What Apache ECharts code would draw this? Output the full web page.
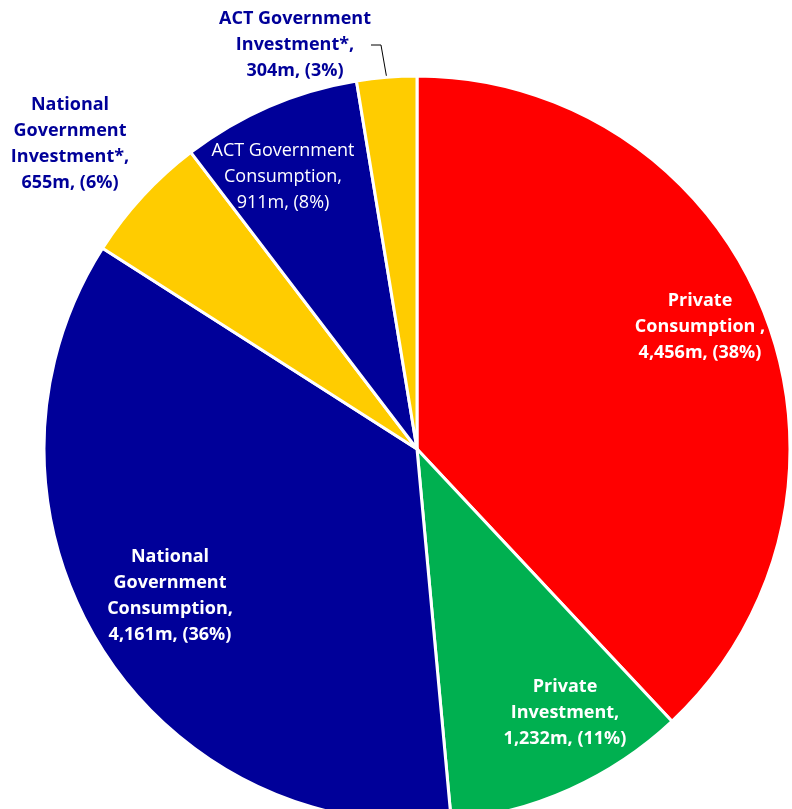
<!DOCTYPE html>
<html>
<head>
<meta charset="utf-8">
<script src="https://cdn.jsdelivr.net/npm/echarts@6/dist/echarts.min.js"></script>
<style>
html, body { margin: 0; padding: 0; background: #fff; }
#P1 { width: 792px; height: 809px; }
</style>
</head>
<body>
<div id="P1"></div>
<script>
// slices, clockwise from 12 o'clock
var names = ['Private\nConsumption ', 'Private\nInvestment', 'National\nGovernment\nConsumption',
	'National\nGovernment\nInvestment*', 'ACT Government\nConsumption', 'ACT Government\nInvestment*'];
var values = [4456, 1232, 4161, 655, 911, 304];
var colors = ['#FF0000', '#00B050', '#000099', '#FFCC00', '#000099', '#FFCC00'];
var labelColors = ['#FFFFFF', '#FFFFFF', '#FFFFFF', '#000099', '#FFFFFF', '#000099'];
var labelBold = [true, true, true, true, false, true];
var labelInside = [true, true, true, false, true, false];
// label centres (text placement only)
var labelPos = [[700, 327], [565, 713], [170, 596], [70, 144], [283, 177], [295, 45]];

function fmt(n) {
	return n.toString().replace(/\B(?=(\d{3})+(?!\d))/g, ',');
}

var myChart = echarts.init(document.getElementById('P1'));
var data = [];
for (var i = 0; i < values.length; i++) {
	data.push({
		name: names[i],
		value: values[i],
		itemStyle: { color: colors[i] },
		label: {
			position: labelInside[i] ? 'inside' : 'outside',
			color: labelColors[i],
			fontWeight: labelBold[i] ? 'bold' : 'normal'
		},
		labelLine: { show: i == 5, lineStyle: { color: '#000000', width: 1 } }
	});
}

var option = {
	backgroundColor: '#ffffff',
	animation: false,
	series: [{
		type: 'pie',
		center: [417, 449],
		radius: 373,
		startAngle: 90,
		clockwise: true,
		avoidLabelOverlap: false,
		itemStyle: { borderColor: '#ffffff', borderWidth: 3 },
		label: {
			fontFamily: 'Open Sans',
			fontSize: 18,
			lineHeight: 26,
			align: 'center',
			formatter: function (p) {
				return p.name + ',\n' + fmt(p.value) + 'm, (' + Math.round(p.percent) + '%)';
			}
		},
		labelLine: { length: 10, length2: 10, smooth: false },
		labelLayout: function (p) {
			var pos = labelPos[p.dataIndex];
			return {
				x: pos[0],
				y: pos[1],
				align: 'center',
				verticalAlign: 'middle'
			};
		},
		data: data
	}]
};
myChart.setOption(option);
</script>
</body>
</html>
